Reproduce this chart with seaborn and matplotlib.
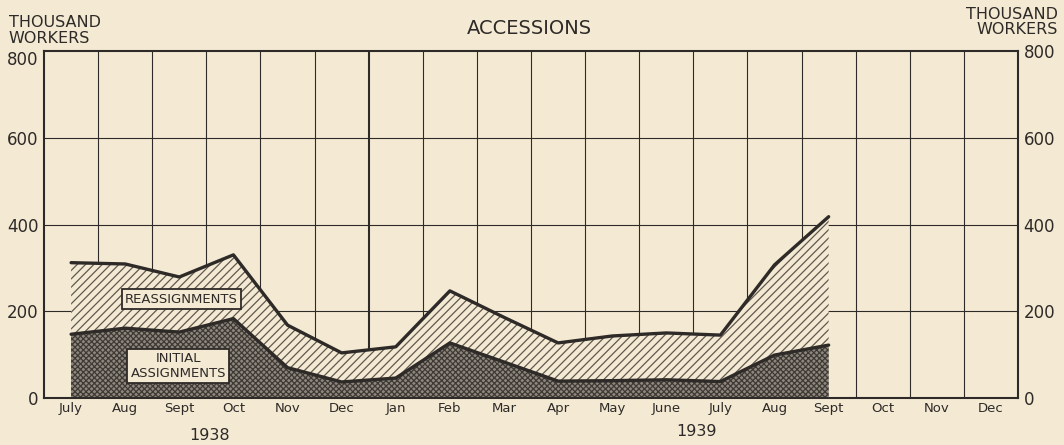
import matplotlib
matplotlib.use("Agg")
import matplotlib.pyplot as plt
import seaborn as sns
import pandas as pd
import numpy as np

# ---- data (thousand workers) ----
months = ["July", "Aug", "Sept", "Oct", "Nov", "Dec",
          "Jan", "Feb", "Mar", "Apr", "May", "June",
          "July", "Aug", "Sept", "Oct", "Nov", "Dec"]
years = ["1938", "1939"]
total_accessions = [312, 309, 279, 330, 168, 104, 118, 247, 186, 127, 143, 150, 145, 307, 418]
initial_assignments = [147, 161, 152, 183, 70, 37, 46, 127, 83, 39, 40, 42, 38, 99, 122]

BG = "#f4ead4"
INK = "#2e2a27"

sns.set_theme(style="white")
plt.rcParams["font.family"] = ["DejaVu Sans"]
plt.rcParams["hatch.linewidth"] = 0.9

n = len(total_accessions)
df = pd.DataFrame({
    "idx": np.arange(n),
    "total": total_accessions,
    "initial": initial_assignments,
})

fig = plt.figure(figsize=(10.64, 4.45), dpi=100, facecolor=BG)
ax = fig.add_axes([0.0414, 0.1056, 0.9154, 0.7798])
ax.set_facecolor(BG)

# filled areas
ax.fill_between(df["idx"], df["initial"], df["total"], facecolor=BG,
                edgecolor="#5f584f", hatch="////", linewidth=0, zorder=2)
ax.fill_between(df["idx"], 0, df["initial"], facecolor="#8d877d",
                edgecolor="#3e3934", hatch="xxxxxx", linewidth=0, zorder=2)

sns.lineplot(data=df, x="idx", y="total", color=INK, linewidth=2.4, ax=ax, zorder=4)
sns.lineplot(data=df, x="idx", y="initial", color=INK, linewidth=2.4, ax=ax, zorder=4)

ax.set_xlim(-0.5, len(months) - 0.5)
ax.set_ylim(0, 800)

# grid
for k in range(len(months) - 1):
    xv = k + 0.5
    ax.axvline(xv, color=INK, linewidth=1.5 if k == 5 else 0.8, zorder=1)
for yv in [200, 400, 600]:
    ax.axhline(yv, color=INK, linewidth=0.8, zorder=1)

for s in ax.spines.values():
    s.set_visible(True)
    s.set_color(INK)
    s.set_linewidth(1.5)

yt = [0, 200, 400, 600, 800]
ax.set_xticks(range(len(months)))
ax.set_xticklabels(months, fontsize=9.5, color=INK)
ax.set_yticks(yt)
ax.set_yticklabels([str(v) for v in yt], fontsize=12, color=INK)
ax.tick_params(axis="both", length=0, pad=4)
ax.tick_params(axis="x", pad=3)
ax.set_xlabel("")
ax.set_ylabel("")
ax.get_yticklabels()[-1].set_va("top")

ax2 = ax.twinx()
ax2.set_ylim(0, 800)
ax2.set_yticks(yt)
ax2.set_yticklabels([str(v) for v in yt], fontsize=12, color=INK)
ax2.tick_params(axis="y", length=0, pad=4)
for s in ax2.spines.values():
    s.set_visible(False)

# year labels
ax.text(2.55, -0.085, years[0], transform=ax.get_xaxis_transform(),
        ha="center", va="top", fontsize=11.5, color=INK)
ax.text(11.55, -0.075, years[1], transform=ax.get_xaxis_transform(),
        ha="center", va="top", fontsize=11.5, color=INK)

# series labels
box = dict(boxstyle="square,pad=0.25", facecolor=BG, edgecolor=INK, linewidth=1.3)
ax.text(2.04, 228, "REASSIGNMENTS", ha="center", va="center", fontsize=9.5,
        color=INK, bbox=box, zorder=6)
ax.text(1.98, 74, "INITIAL\nASSIGNMENTS", ha="center", va="center", fontsize=9.5,
        color=INK, bbox=box, zorder=6, linespacing=1.2)

# titles
fig.text(0.498, 0.935, "ACCESSIONS", ha="center", va="center", fontsize=14, color=INK)
fig.text(0.008, 0.966, "THOUSAND\nWORKERS", ha="left", va="top", fontsize=11.5,
         color=INK, linespacing=1.05)
fig.text(0.994, 0.985, "THOUSAND\nWORKERS", ha="right", va="top", fontsize=11.5,
         color=INK, linespacing=1.0, multialignment="right")

fig.savefig("out.png", dpi=100, facecolor=BG)
